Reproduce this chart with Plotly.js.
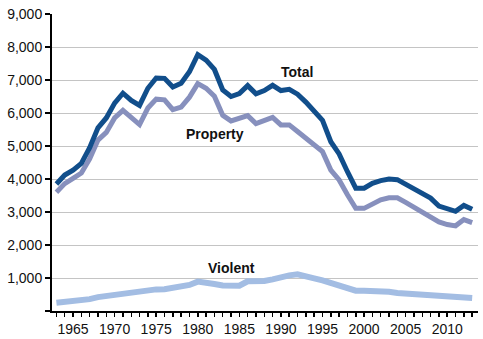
<!DOCTYPE html>
<html>
<head>
<meta charset="utf-8">
<script src="https://cdn.plot.ly/plotly-3.0.1.min.js"></script>
<style>html,body{margin:0;padding:0;background:#fff;}#chart{width:483px;height:339px;}</style>
</head>
<body>
<div id="chart"></div>
<script>
var years = [];
for (var y = 1963; y <= 2013; y++) years.push(y);

var totalRate = [3850,4120,4270,4470,4950,5550,5850,6300,6600,6380,
  6230,6750,7060,7050,6790,6900,7250,7770,7600,7320,
  6700,6500,6590,6830,6580,6680,6840,6680,6720,6570,
  6330,6070,5780,5130,4760,4220,3720,3720,3870,3950,
  4000,3980,3830,3700,3540,3420,3180,3080,3020,3200,3080];

var propertyRate = [3600,3860,4020,4180,4610,5180,5410,5850,6080,5840,
  5650,6150,6420,6400,6100,6180,6480,6890,6750,6510,
  5930,5760,5830,5920,5680,5770,5870,5640,5640,5440,
  5230,5060,4830,4270,3970,3520,3110,3110,3260,3370,
  3430,3430,3290,3140,2990,2880,2700,2620,2580,2770,2680];

var violentRate = [250,275,290,305,360,420,460,480,530,555,
  575,620,655,660,690,730,790,890,870,820,
  775,760,765,900,900,910,960,1040,1080,1110,
  1070,990,930,860,780,700,615,615,610,595,
  580,545,525,530,520,500,470,440,415,425,395];

var labels = ["Total", "Property", "Violent"];
var yTickVals = [0,1000,2000,3000,4000,5000,6000,7000,8000,9000];
var yTickText = ["","1,000","2,000","3,000","4,000","5,000","6,000","7,000","8,000","9,000"];

var traces = [
  {x: years, y: violentRate, type: 'scatter', mode: 'lines', name: labels[2],
   line: {color: '#a3bde3', width: 6}},
  {x: years, y: propertyRate, type: 'scatter', mode: 'lines', name: labels[1],
   line: {color: '#8790bd', width: 5}},
  {x: years, y: totalRate, type: 'scatter', mode: 'lines', name: labels[0],
   line: {color: '#114e8b', width: 5}}
];

var layout = {
  width: 483, height: 339,
  margin: {l: 52, r: 5, t: 14, b: 28},
  paper_bgcolor: '#fff', plot_bgcolor: '#fff',
  showlegend: false,
  font: {family: 'Liberation Sans, Arial, sans-serif', size: 14, color: '#111'},
  xaxis: {
    range: [1962.47, 2013.7], tick0: 1965, dtick: 5,
    ticks: 'outside', ticklen: 4, tickwidth: 1.5, tickcolor: '#000',
    showgrid: false, zeroline: false,
    showline: true, linecolor: '#000', linewidth: 2,
    tickfont: {size: 14, color: '#111'},
    minor: {dtick: 1, tick0: 1963, ticks: 'outside', ticklen: 4, tickwidth: 1.5, tickcolor: '#000', showgrid: false}
  },
  yaxis: {
    range: [0, 9000], tickmode: 'array', tickvals: yTickVals, ticktext: yTickText,
    ticks: 'outside', ticklen: 5, tickwidth: 1.5, tickcolor: '#000',
    showgrid: true, gridcolor: '#c4c4c4', gridwidth: 1,
    zeroline: false, showline: true, linecolor: '#000', linewidth: 2,
    tickfont: {size: 14, color: '#111'}
  },
  annotations: [
    {x: 1991.95, y: 7242, text: '<b>' + labels[0] + '</b>', showarrow: false, font: {size: 14, color: '#111'}},
    {x: 1982.1, y: 5360, text: '<b>' + labels[1] + '</b>', showarrow: false, font: {size: 14, color: '#111'}},
    {x: 1984.0, y: 1310, text: '<b>' + labels[2] + '</b>', showarrow: false, font: {size: 14, color: '#111'}}
  ]
};

Plotly.newPlot('chart', traces, layout, {displayModeBar: false, staticPlot: true});
</script>
</body>
</html>
